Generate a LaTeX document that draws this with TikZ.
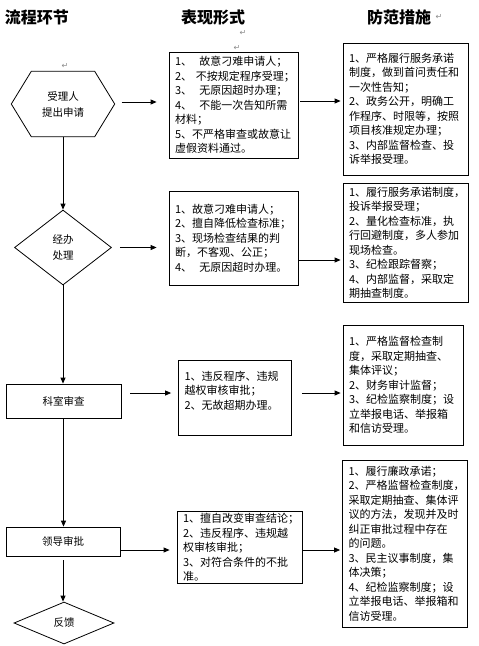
\documentclass[tikz,border=0pt]{standalone}
\usepackage{fontspec}
\setmainfont{Noto Sans CJK SC}
\newfontfamily\markfont{DejaVu Sans}
\usepackage{xcolor}
\usepackage{tikz}
\definecolor{flowInk}{HTML}{000000}
\definecolor{flowMark}{HTML}{8A8A8A}
\definecolor{flowPaper}{HTML}{FFFFFF}
\usetikzlibrary{arrows.meta,positioning,shapes.geometric,calc}

\begin{document}
\begin{tikzpicture}[
  x=1pt, y=-1pt,
  font=\fontsize{11}{14.5}\selectfont,
  >={Triangle[length=6pt,width=5pt]},
  headtitle/.style={font=\fontsize{16}{18}\selectfont\bfseries, text=flowInk},
  pmark/.style={font=\markfont\fontsize{8}{8}\selectfont, text=flowMark, inner sep=0pt},
  riskbox/.style={
    draw=flowInk,
    line width=0.8pt,
    rectangle,
    align=left,
    inner xsep=6pt,
    inner ysep=2pt,
    text=flowInk
  },
  formbox/.style={riskbox, text width=117pt},
  guardbox/.style={riskbox, text width=113pt},
  stepnode/.style={
    font=\fontsize{10.5}{16}\selectfont,
    align=center,
    inner sep=1pt,
    text=flowInk
  },
  stepbox/.style={stepnode, draw=flowInk, line width=0.8pt, rectangle},
  stepdiamond/.style={stepnode, draw=flowInk, line width=0.8pt, diamond, inner sep=0pt},
  outline/.style={draw=flowInk, line width=0.8pt},
  flow/.style={->, line width=0.8pt, flowInk}
]

\useasboundingbox[fill=flowPaper] (0,0) rectangle (479,646);

% Column titles
\node[headtitle] (titleStep) at (37,17) {流程环节};
\node[headtitle] (titleForm) at (213,17) {表现形式};
\node[headtitle] (titleGuard) at (399,17) {防范措施};
\node[pmark, right=1pt of titleGuard] (markGuard) {↵};
\node[pmark] (markFormA) at (243,33) {↵};
\node[pmark] (markFormB) at (237,48) {↵};
\node[pmark] (markApply) at (65,66) {↵};

% Process steps
\node[stepnode, minimum width=103pt, minimum height=65pt] (apply) at (63,104) {受理人\\提出申请};
\draw[outline] (apply.west) -- ([xshift=20pt]apply.north west) -- ([xshift=-20pt]apply.north east)
  -- (apply.east) -- ([xshift=-20pt]apply.south east) -- ([xshift=20pt]apply.south west) -- cycle;

\node[stepdiamond, minimum width=97pt, minimum height=75pt] (handle) at (63,247.5) {经办\\处理};
\node[stepbox, minimum width=115pt, minimum height=34pt] (section) at (63.5,401) {科室审查};
\node[stepbox, minimum width=114pt, minimum height=29pt] (leader) at (63,541.5) {领导审批};
\node[stepdiamond, minimum width=100pt, minimum height=42pt] (feedback) at (64,623) {反馈};

% Forms of risk
\node[formbox, minimum height=106pt] (formA) at (233.5,105)
{1、~~故意刁难申请人；\\
2、~不按规定程序受理；\\
3、~~无原因超时办理；\\
4、~~不能一次告知所需\\
材料；\\
5、不严格审查或故意让\\
虚假资料通过。};

\node[formbox, minimum height=94pt] (formB) at (233.5,238)
{1、故意刁难申请人；\\
2、擅自降低检查标准；\\
3、现场检查结果的判\\
断，不客观、公正；\\
4、~~无原因超时办理。};

\node[riskbox, text width=101pt, minimum height=75pt] (formC) at (235,397.5)
{1、违反程序、违规\\
越权审核审批；\\
2、无故超期办理。\\
\mbox{}};

\node[riskbox, text width=113pt, minimum height=70pt] (formD) at (239.5,547.5)
{1、擅自改变审查结论；\\
2、违反程序、违规越\\
权审核审批；\\
3、对符合条件的不批\\
准。};

% Preventive measures
\node[guardbox, minimum height=132pt] (guardA) at (405.5,109)
{1、严格履行服务承诺\\
制度，做到首问责任和\\
一次性告知；\\
2、政务公开，明确工\\
作程序、时限等，按照\\
项目核准规定办理；\\
3、内部监督检查、投\\
诉举报受理。};

\node[guardbox, minimum height=119pt] (guardB) at (405.5,243)
{1、履行服务承诺制度，\\
投诉举报受理；\\
2、量化检查标准，执\\
行回避制度，多人参加\\
现场检查。\\
3、纪检跟踪督察；\\
4、内部监督，采取定\\
期抽查制度。};

\node[riskbox, text width=108pt, minimum height=120pt] (guardC) at (403,385)
{1、严格监督检查制\\
度，采取定期抽查、\\
集体评议；\\
2、财务审计监督；\\
3、纪检监察制度；设\\
立举报电话、举报箱\\
和信访受理。};

\node[guardbox, minimum height=167pt] (guardD) at (405,543.5)
{1、履行廉政承诺；\\
2、严格监督检查制度，\\
采取定期抽查、集体评\\
议的方法，发现并及时\\
纠正审批过程中存在\\
的问题。\\
3、民主议事制度，集\\
体决策；\\
4、纪检监察制度；设\\
立举报电话、举报箱和\\
信访受理。};

% Flow down the steps
\draw[flow] (apply.south) -- (handle.north);
\draw[flow] (handle.south) -- (handle.south |- section.north);
\draw[flow] (section.south) -- (section.south |- leader.north);
\draw[flow, shorten <=4pt] (leader.south) -- (leader.south |- feedback.north);

% Steps to forms to measures
\coordinate (outApply) at ([yshift=2pt]apply.east);
\coordinate (outFormA) at ([yshift=4pt]formA.east);
\coordinate (outHandle) at (handle.east);
\coordinate (outFormB) at ([yshift=-22pt]formB.east);
\coordinate (outSection) at ([yshift=8pt]section.east);
\coordinate (outFormC) at ([yshift=4.5pt]formC.east);
\coordinate (outLeader) at ([yshift=-8.5pt]leader.east);
\coordinate (outFormD) at ([yshift=-2.5pt]formD.east);

\draw[flow, shorten <=7pt, shorten >=12pt] (outApply) -- (outApply -| formA.west);
\draw[flow, shorten <=2pt, shorten >=2pt] (outFormA) -- (outFormA -| guardA.west);
\draw[flow, shorten <=8pt, shorten >=12pt] (outHandle) -- (outHandle -| formB.west);
\draw[flow, shorten >=2pt] (outFormB) -- (outFormB -| guardB.west);
\draw[flow, shorten <=9pt, shorten >=7pt] (outSection) -- (outSection -| formC.west);
\draw[flow, shorten <=10pt, shorten >=2pt] (outFormC) -- (outFormC -| guardC.west);
\draw[flow, shorten >=7pt] (outLeader) -- (outLeader -| formD.west);
\draw[flow, shorten >=2pt] (outFormD) -- (outFormD -| guardD.west);

\end{tikzpicture}
\end{document}
